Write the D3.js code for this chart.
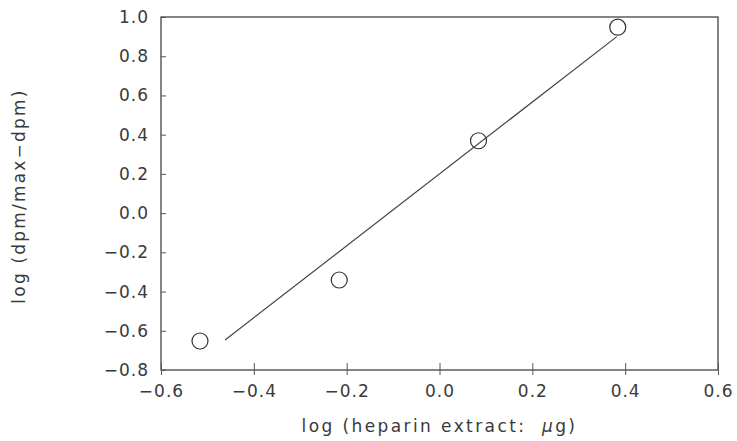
<!DOCTYPE html>
<html>
<head>
<meta charset="utf-8">
<script src="https://cdn.jsdelivr.net/npm/d3@7"></script>
<style>
  body { margin: 0; background: #fff; }
  text { font-family: "DejaVu Sans", sans-serif; fill: #3a3a3a; }
</style>
</head>
<body>
<svg id="chart" width="737" height="441"></svg>
<script>
// measured points
const xVals = [-0.516, -0.216, 0.084, 0.384];
const yVals = [-0.652, -0.341, 0.369, 0.948];
// fitted line ends
const fitX = [-0.462, 0.382];
const fitY = [-0.647, 0.900];
const xTicks = [-0.6, -0.4, -0.2, 0.0, 0.2, 0.4, 0.6];
const yTicks = [-0.8, -0.6, -0.4, -0.2, 0.0, 0.2, 0.4, 0.6, 0.8, 1.0];

const margin = {left: 161, right: 19, top: 17, bottom: 71};
const W = 737, H = 441;
const svg = d3.select("#chart");

const x = d3.scaleLinear().domain([-0.6, 0.6]).range([margin.left, W - margin.right]);
const y = d3.scaleLinear().domain([-0.8, 1.0]).range([H - margin.bottom, margin.top]);

const fmt = d => (d < 0 ? "\u2212" : "") + Math.abs(d).toFixed(1);

// box
svg.append("rect")
  .attr("x", x(-0.6)).attr("y", y(1.0))
  .attr("width", x(0.6) - x(-0.6)).attr("height", y(-0.8) - y(1.0))
  .attr("fill", "none").attr("stroke", "#444").attr("stroke-width", 1.3);

// x axis
const xAxis = svg.append("g")
  .attr("transform", `translate(0,${y(-0.8)})`)
  .call(d3.axisBottom(x).tickValues(xTicks).tickFormat(fmt).tickSizeInner(-7).tickSizeOuter(0).tickPadding(15));
xAxis.select(".domain").remove();
xAxis.selectAll(".tick line").attr("y1", 5).attr("stroke", "#555");
xAxis.selectAll("text").attr("font-size", 17).attr("letter-spacing", 1).attr("fill", "#3a3a3a");

// y axis
const yAxis = svg.append("g")
  .attr("transform", `translate(${x(-0.6)},0)`)
  .call(d3.axisLeft(y).tickValues(yTicks).tickFormat(fmt).tickSizeInner(5).tickSizeOuter(0).tickPadding(7));
yAxis.select(".domain").remove();
yAxis.selectAll(".tick line").attr("x2", 5).attr("stroke", "#555");
yAxis.selectAll("text").attr("font-size", 17).attr("letter-spacing", 1).attr("fill", "#3a3a3a");

// fitted line
svg.append("line")
  .attr("x1", x(fitX[0])).attr("y1", y(fitY[0]))
  .attr("x2", x(fitX[1])).attr("y2", y(fitY[1]))
  .attr("stroke", "#444").attr("stroke-width", 1.2);

// data points
svg.selectAll("circle.pt")
  .data(xVals.map((v, i) => ({x: v, y: yVals[i]})))
  .enter().append("circle")
  .attr("class", "pt")
  .attr("cx", d => x(d.x)).attr("cy", d => y(d.y))
  .attr("r", 8)
  .attr("fill", "none").attr("stroke", "#333").attr("stroke-width", 1.2);

// axis titles
svg.append("text")
  .attr("x", (x(-0.6) + x(0.6)) / 2).attr("y", 432)
  .attr("text-anchor", "middle").attr("font-size", 17).attr("letter-spacing", 2.4)
  .html("log (heparin extract:&#160; <tspan font-style='italic'>\u03bc</tspan>g)");

svg.append("text")
  .attr("transform", `translate(25,196) rotate(-90)`)
  .attr("text-anchor", "middle").attr("font-size", 17).attr("letter-spacing", 2.2)
  .text("log (dpm/max\u2212dpm)");
</script>
</body>
</html>
